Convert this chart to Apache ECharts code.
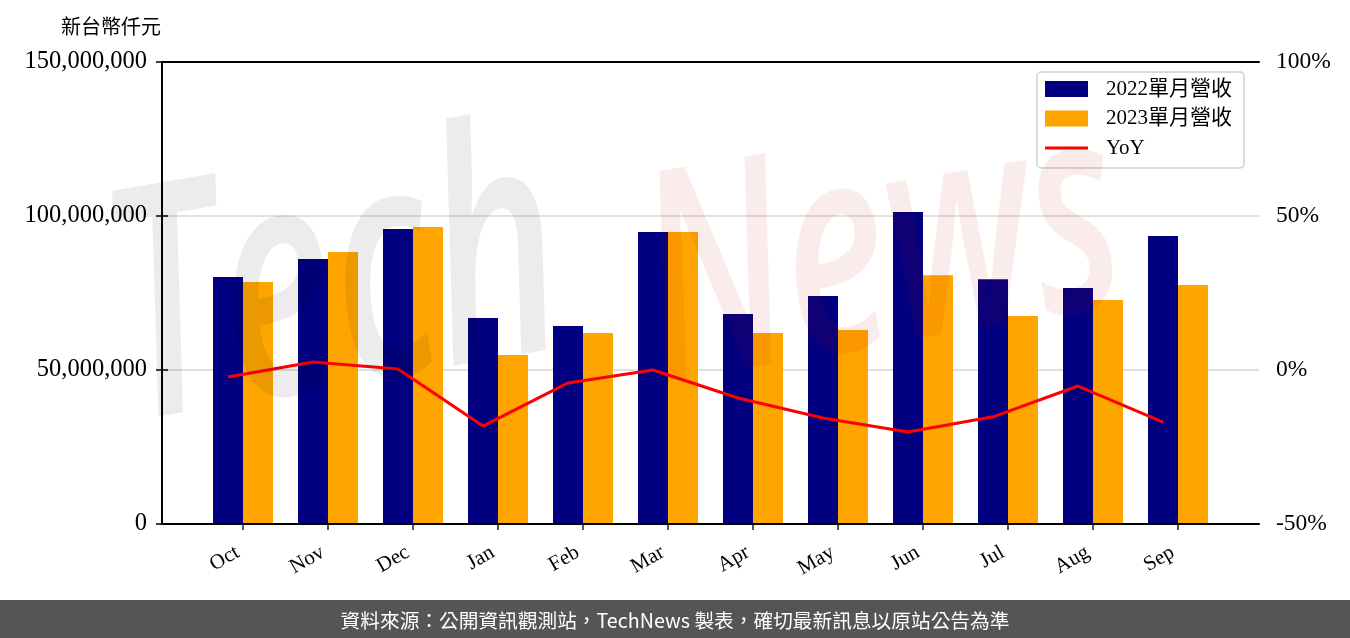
<!DOCTYPE html>
<html><head><meta charset="utf-8">
<script src="https://cdn.jsdelivr.net/npm/echarts@6/dist/echarts.min.js"></script>
<style>html,body{margin:0;padding:0;background:#fff}#c{width:1350px;height:638px}</style>
</head><body><div id="c"></div>
<script>
const months = ['Oct','Nov','Dec','Jan','Feb','Mar','Apr','May','Jun','Jul','Aug','Sep'];
const rev2022 = [80200000, 86000000, 95800000, 66900000, 64300000, 94800000, 68200000, 74000000, 101300000, 79500000, 76600000, 93500000];
const rev2023 = [78600000, 88300000, 96400000, 54900000, 62000000, 94800000, 62000000, 63000000, 80800000, 67500000, 72700000, 77600000];
const yoy = [-2.3, 2.6, 0.3, -18.2, -4.2, 0.0, -9.1, -15.6, -20.1, -15.2, -5.2, -16.9];
const leftTicks = {min: 0, max: 150000000, interval: 50000000};
const rightTicks = {min: -50, max: 100, interval: 50};

const serif = '"Liberation Serif","DejaVu Serif","Noto Sans CJK TC",serif';
const chart = echarts.init(document.getElementById('c'));
const T = 62, H = 462;
chart.setOption({
  animation: false,
  title: {text: '新台幣仟元', left: 56, top: 14, textStyle: {fontFamily: serif, fontSize: 20, fontWeight: 'normal', color: '#000'}},
  legend: {
    orient: 'vertical', left: 1037, top: 72,
    backgroundColor: '#fff', borderColor: '#d0d0d0', borderWidth: 1.5, borderRadius: 4,
    padding: [6, 12, 9, 8], itemWidth: 43, itemHeight: 16, itemGap: 7.5,
    textStyle: {fontFamily: serif, fontSize: 21, color: '#000', lineHeight: 22, padding: [0, 0, 0, 13]},
    data: [
      {name: '2022單月營收', icon: 'rect'},
      {name: '2023單月營收', icon: 'rect'},
      {name: 'YoY', icon: 'path://M0,0L43,0L43,3L0,3Z'}
    ]
  },
  grid: [
    {left: 200.5, width: 1020, top: T, height: H},
    {left: 162, width: 1097, top: T, height: H},
    {left: 185.5, width: 1020, top: T, height: H}
  ],
  xAxis: [
    {type: 'category', gridIndex: 0, data: months, boundaryGap: true,
     axisLine: {show: false},
     axisTick: {show: true, alignWithLabel: true, length: 6, lineStyle: {color: '#222', width: 1.5}},
     axisLabel: {rotate: 30, margin: 24, padding: [0, 6, 0, 0], fontFamily: serif, fontSize: 21, color: '#000'}},
    {type: 'value', gridIndex: 1, position: 'bottom', min: 0, max: 1, z: 5,
     axisLine: {show: true, onZero: false, lineStyle: {color: '#000', width: 2}},
     axisTick: {show: false}, axisLabel: {show: false}, splitLine: {show: false}},
    {type: 'value', gridIndex: 1, position: 'top', min: 0, max: 1, z: 5,
     axisLine: {show: true, onZero: false, lineStyle: {color: '#000', width: 2}},
     axisTick: {show: false}, axisLabel: {show: false}, splitLine: {show: false}},
    {type: 'category', gridIndex: 2, data: months, show: false}
  ],
  yAxis: [
    {type: 'value', gridIndex: 0, min: leftTicks.min, max: leftTicks.max, show: false},
    {type: 'value', gridIndex: 1, position: 'left', min: leftTicks.min, max: leftTicks.max, interval: leftTicks.interval, z: 1,
     axisLine: {show: true, lineStyle: {color: '#000', width: 2}},
     axisTick: {show: true, length: 6, lineStyle: {color: '#000', width: 1.5}},
     axisLabel: {margin: 15, fontFamily: serif, fontSize: 24.5, color: '#000',
                 formatter: v => v.toLocaleString('en-US')},
     splitLine: {show: true, lineStyle: {color: '#d6d6d6', width: 1.5}}},
    {type: 'value', gridIndex: 1, position: 'right', min: rightTicks.min, max: rightTicks.max, interval: rightTicks.interval, z: 5,
     axisLine: {show: true, lineStyle: {color: '#000', width: 2}},
     axisTick: {show: true, length: 6, lineStyle: {color: '#000', width: 1.5}},
     axisLabel: {margin: 17, fontFamily: serif, fontSize: 23.5, color: '#000', formatter: v => v + '%'},
     splitLine: {show: false}},
    {type: 'value', gridIndex: 2, min: rightTicks.min, max: rightTicks.max, show: false}
  ],
  series: [
    {name: '2022單月營收', type: 'bar', xAxisIndex: 0, yAxisIndex: 0, data: rev2022,
     barWidth: 30, barGap: '0%', itemStyle: {color: '#000080'}},
    {name: '2023單月營收', type: 'bar', xAxisIndex: 0, yAxisIndex: 0, data: rev2023,
     barWidth: 30, barGap: '0%', itemStyle: {color: '#FFA500'}},
    {name: 'YoY', type: 'line', xAxisIndex: 3, yAxisIndex: 3, data: yoy, symbol: 'none', z: 4,
     lineStyle: {color: '#FF0000', width: 3}, itemStyle: {color: '#FF0000'}}
  ],
  graphic: [
    {type: 'text', z: 50, x: 140, y: 490, rotation: 0.17, scaleY: 1.5,
     style: {text: 'Tech', font: 'italic 600 215px "Open Sans"', fill: 'rgba(0,0,0,0.075)', verticalAlign: 'bottom'}},
    {type: 'text', z: 50, x: 670, y: 445, rotation: 0.17, scaleY: 1.5,
     style: {text: 'News', font: 'italic 600 195px "Open Sans"', fill: 'rgba(200,0,0,0.075)', verticalAlign: 'bottom'}},
    {type: 'rect', left: 0, bottom: 0, z: 60, shape: {width: 1350, height: 38}, style: {fill: '#555555'}},
    {type: 'text', left: 'center', bottom: 8, z: 61,
     style: {text: '資料來源：公開資訊觀測站，TechNews 製表，確切最新訊息以原站公告為準',
             font: '19.7px "Noto Sans CJK TC","Noto Sans"', fill: '#fff'}}
  ]
});
</script></body></html>
